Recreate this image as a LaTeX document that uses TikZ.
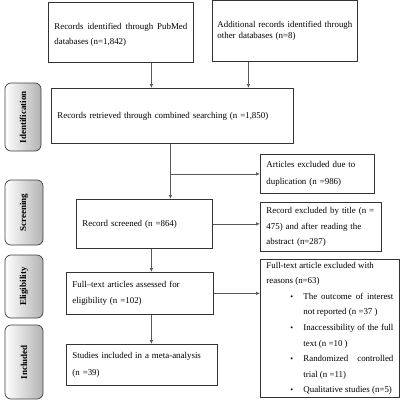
\documentclass[tikz,border=0pt]{standalone}
\usepackage{fontspec}
\setmainfont{Liberation Serif}
\usepackage{tikz}
\usetikzlibrary{arrows.meta, positioning, calc}

\newcommand{\exclitem}[1]{\par\hangindent=37pt\hangafter=0\noindent\hspace*{-13pt}\makebox[13pt][l]{\fontsize{8}{8}\selectfont\textbullet}#1\par}

\begin{document}
\begin{tikzpicture}[
	  x=1pt, y=-1pt,
	  font=\fontsize{8.9}{15.6}\selectfont,
	  box/.style={
	    draw=black!80,
	    line width=0.8pt,
	    anchor=north west,
	    align=left,
	    inner xsep=6pt,
	    inner ysep=2pt
	  },
	  justbox/.style={box,align=justify},
	  stagebox/.style={
	    draw=black!75,
	    line width=0.7pt,
	    rounded corners=6pt,
	    left color=white,
	    right color=black!30,
	    rotate=90,
	    font=\fontsize{9}{11}\selectfont\bfseries
	  },
	  arrow/.style={-{Latex[length=4pt,width=3.5pt]},draw=black!65,line width=0.7pt}
	]
	\useasboundingbox (0,0) rectangle (400,400);
	
	% Stage labels
	\node[stagebox, minimum width=68pt, minimum height=36pt] (ident) at (23,117) {Identification};
	\node[stagebox, minimum width=65pt, minimum height=38pt] (screen) at (24,212.5) {Screening};
	\node[stagebox, minimum width=63pt, minimum height=38pt] (elig) at (24,286.5) {Eligibility};
	\node[stagebox, minimum width=74pt, minimum height=38pt] (incl) at (24,362) {Included};
	
	% Main column
	\node[justbox, text width=133pt, minimum height=60pt, text depth=13pt] (pubmed) at (48,2) {Records identified through PubMed\linebreak databases (n=1,842)};
	\node[box, text width=135pt, inner xsep=5pt, minimum height=61pt, font=\fontsize{8.9}{10.3}\selectfont] (other) at (212,0) {Additional records identified through\\other databases (n=8)};
	\node[box, text width=230pt, minimum height=55pt] (combined) at (51,88) {Records retrieved through combined searching (n =1,850)};
	\node[box, text width=124pt, minimum height=49pt] (screened) at (76,199) {Record screened (n =864)};
	\node[box, text width=135pt, minimum height=42pt] (fulltext) at (66,272) {Full--text articles assessed for\\eligibility (n =102)};
	\node[box, text width=139pt, minimum height=41pt, font=\fontsize{8.9}{17}\selectfont] (studies) at (66,344) {Studies included in a meta-analysis\\(n =39)};
	
	% Exclusions
	\node[box, text width=102pt, minimum height=39pt, font=\fontsize{8.9}{17}\selectfont] (dup) at (260,154) {Articles excluded due to\\duplication (n =986)};
	\node[box, text width=109pt, minimum height=49pt] (title) at (260,202) {Record excluded by title (n =\\475) and after reading the\\abstract (n=287)};
	\node[box, text width=127pt, align=justify, minimum height=138pt] (ftexcl) at (260,259) {Full-text article excluded with\\reasons (n=63)
	  \exclitem{The outcome of interest\linebreak not reported (n =37 )}
	  \exclitem{Inaccessibility of the full\linebreak text (n =10 )}
	  \exclitem{Randomized controlled\linebreak trial (n =11)}
	  \exclitem{Qualitative studies (n=5)}};
	
	% Flow arrows
	\draw[arrow] ([xshift=30.5pt]pubmed.south) -- ([xshift=30.5pt]pubmed.south |- combined.north);
	\draw[arrow] ([xshift=-36.5pt]other.south) -- ([xshift=-36.5pt]other.south |- combined.north);
	\draw[arrow] ([xshift=-2pt]combined.south) -- ([xshift=-2pt]combined.south |- screened.north);
	\draw[arrow] ([xshift=-2pt]combined.south |- dup.west) -- (dup.west);
	\draw[arrow] (screened.east) -- (screened.east -| title.west);
	\draw[arrow] ([xshift=7pt]screened.south) -- ([xshift=7pt]screened.south |- fulltext.north);
	\draw[arrow] (fulltext.east) -- (fulltext.east -| ftexcl.west);
	\draw[arrow] ([xshift=11.5pt]fulltext.south) -- ([xshift=11.5pt]fulltext.south |- studies.north);
	
\end{tikzpicture}
\end{document}
